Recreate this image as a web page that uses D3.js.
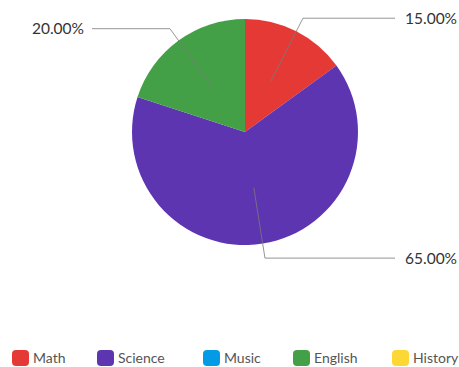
<!DOCTYPE html>
<html>
<head>
<meta charset="utf-8">
<script src="https://cdn.jsdelivr.net/npm/d3@7"></script>
<style>
  html, body { margin: 0; padding: 0; background: #fff; }
  svg { display: block; font-family: Lato, "Open Sans", sans-serif; }
</style>
</head>
<body>
<svg id="chart" width="459" height="367"></svg>
<script>
// Subject shares
const categories = ["Math", "Science", "Music", "English", "History"];
const values = [15, 65, 0, 20, 0];
const colors = ["#e53935", "#5e35b1", "#039be5", "#43a047", "#fdd835"];

const svg = d3.select("#chart");
const cx = 245, cy = 132, radius = 113;

const data = categories.map((c, i) => ({ name: c, value: values[i], color: colors[i] }));
const total = d3.sum(values);

const pie = d3.pie().value(d => d.value).sort(null);
const arcs = pie(data);
const arc = d3.arc().innerRadius(0).outerRadius(radius);

const g = svg.append("g").attr("transform", `translate(${cx},${cy})`);

g.selectAll("path.slice")
  .data(arcs.filter(a => a.data.value > 0))
  .join("path")
  .attr("class", "slice")
  .attr("d", arc)
  .attr("fill", d => d.data.color);

// Leader lines and value labels
const fmt = d3.format(".2f");
const inner = d3.arc().innerRadius(radius * 0.5).outerRadius(radius * 0.5);
const elbow = d3.arc().innerRadius(radius * 1.13).outerRadius(radius * 1.13);
const labelEdge = { right: 395, left: 92 };

arcs.filter(a => a.data.value > 0).forEach(a => {
  const mid = (a.startAngle + a.endAngle) / 2;
  const right = Math.sin(mid) >= 0;
  const p0 = inner.centroid(a);
  const p1 = elbow.centroid(a);
  const endX = (right ? labelEdge.right : labelEdge.left) - cx;
  g.append("polyline")
    .attr("points", [p0, p1, [endX, p1[1]]].map(p => p.join(",")).join(" "))
    .attr("fill", "none")
    .attr("stroke", "#7a7a7a")
    .attr("stroke-width", 0.8);
  g.append("text")
    .attr("x", right ? endX + 10 : endX - 8)
    .attr("y", p1[1])
    .attr("dy", "0.35em")
    .attr("text-anchor", right ? "start" : "end")
    .attr("font-size", 15.5)
    .attr("fill", "#333")
    .text(fmt(a.data.value / total * 100) + "%");
});

// Legend
const legendX = [12, 97, 203, 293, 392];
const legend = svg.append("g").attr("transform", "translate(0,350)");
const items = legend.selectAll("g.item")
  .data(data)
  .join("g")
  .attr("class", "item")
  .attr("transform", (d, i) => `translate(${legendX[i]},0)`);
items.append("rect")
  .attr("width", 17).attr("height", 16)
  .attr("rx", 4).attr("ry", 4)
  .attr("fill", d => d.color);
items.append("text")
  .attr("x", 21).attr("y", 8)
  .attr("dy", "0.35em")
  .attr("font-size", 14)
  .attr("fill", "#555")
  .text(d => d.name);
</script>
</body>
</html>
